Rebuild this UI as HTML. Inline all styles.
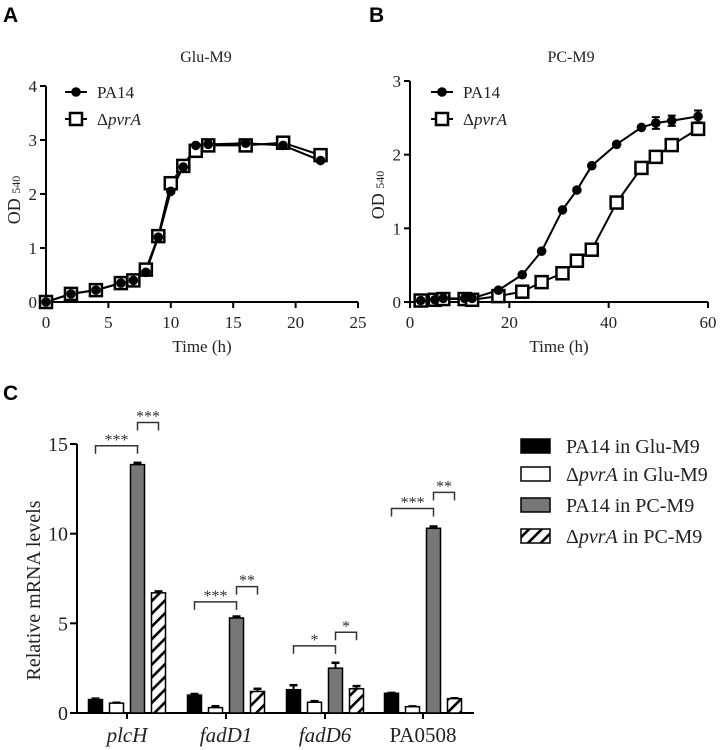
<!DOCTYPE html>
<html><head><meta charset="utf-8"><style>
body{margin:0;background:#fff;}
svg{display:block;font-family:"Liberation Serif",serif;}
svg text{font-family:"Liberation Serif",serif;}
svg text.lbl{font-family:"Liberation Sans",sans-serif;font-weight:bold;font-size:21px;}
</style></head><body>
<svg id="fig" width="728" height="750" viewBox="0 0 728 750">
<defs>
<pattern id="hatch" width="9" height="9" patternUnits="userSpaceOnUse" patternTransform="rotate(45)">
<rect width="9" height="9" fill="#fff"/><rect x="0" y="0" width="2.6" height="9" fill="#000"/>
</pattern>
</defs>
<text class="lbl" x="3" y="22">A</text>
<text class="lbl" x="369" y="22">B</text>
<text class="lbl" x="3" y="400">C</text>
<g id="A"></g><g id="B"></g><g id="C"></g>
</svg>
<script>
// Panel A data
const aTime=[0,2,4,6,7,8,9,10,11,12,13,16,19,22];
const aPA14=[0,0.15,0.22,0.35,0.4,0.55,1.2,2.05,2.5,2.9,2.92,2.94,2.9,2.62];
const aPvrA=[0,0.15,0.22,0.35,0.4,0.6,1.22,2.2,2.52,2.8,2.9,2.9,2.95,2.72];
const aXTicks=[0,5,10,15,20,25];
const aYTicks=[0,1,2,3,4];
// Panel B data
const bTime=[2.15,5,6.7,11,12.5,17.8,22.6,26.5,30.7,33.6,36.6,41.6,46.6,49.5,52.7,58];
const bPA14=[0.02,0.03,0.05,0.05,0.05,0.16,0.37,0.69,1.25,1.52,1.85,2.14,2.37,2.43,2.46,2.52];
const bPvrA=[0.02,0.03,0.04,0.04,0.03,0.08,0.14,0.27,0.39,0.56,0.71,1.35,1.82,1.97,2.13,2.35];
const bErr=[0,0,0,0,0,0,0,0,0,0,0,0,0,0.08,0.07,0.08];
const bXTicks=[0,20,40,60];
const bYTicks=[0,1,2,3];
// Panel C data
const cGenes=["plcH","fadD1","fadD6","PA0508"];
const cGlu14=[0.75,1.0,1.3,1.1];
const cGluPvr=[0.55,0.3,0.6,0.35];
const cPC14=[13.85,5.3,2.5,10.3];
const cPCPvr=[6.7,1.2,1.35,0.8];
const cErr14G=[0.05,0.06,0.25,0.02];
const cErrPG=[0.02,0.08,0.06,0.02];
const cErr14P=[0.1,0.08,0.3,0.1];
const cErrPP=[0.08,0.15,0.15,0.02];
const cSig1=["***","***","*","***"];
const cSig2=["***","**","*","**"];
const cSig1Y=[14.9,6.2,3.74,11.4];
const cSig2Y=[16.2,7.05,4.5,12.3];
const cYTicks=[0,5,10,15];

const NS="http://www.w3.org/2000/svg";
const FF='"Liberation Serif", serif';
function mk(parent,tag,attrs,text){const e=document.createElementNS(NS,tag);for(const k in attrs)e.setAttribute(k,attrs[k]);if(tag==='text')e.setAttribute('font-family',FF);if(text!==undefined)e.textContent=text;parent.appendChild(e);return e;}

function lineChart(g,cfg){
  const sx=v=>cfg.x0+(v-cfg.xmin)/(cfg.xmax-cfg.xmin)*(cfg.x1-cfg.x0);
  const sy=v=>cfg.y0-(v/cfg.ymax)*(cfg.y0-cfg.y1);
  let e;
  e=mk(g,'line',{x1:cfg.x0,y1:cfg.y0,x2:cfg.x1,y2:cfg.y0,stroke:'#000','stroke-width':2});
  
  e=mk(g,'line',{x1:cfg.x0,y1:cfg.y0,x2:cfg.x0,y2:cfg.y1,stroke:'#000','stroke-width':2});
  
  cfg.xt.forEach(t=>{const x=sx(t);mk(g,'line',{x1:x,y1:cfg.y0,x2:x,y2:cfg.y0+6,stroke:'#000','stroke-width':2});
    e=mk(g,'text',{x:x,y:cfg.y0+26,'text-anchor':'middle','font-size':17,fill:'#222'},t);
    });
  cfg.yt.forEach(t=>{const y=sy(t);mk(g,'line',{x1:cfg.x0-6,y1:y,x2:cfg.x0,y2:y,stroke:'#000','stroke-width':2});
    e=mk(g,'text',{x:cfg.x0-9,y:y+6,'text-anchor':'end','font-size':17,fill:'#222'},t);
    });
  e=mk(g,'text',{x:(cfg.x0+cfg.x1)/2,y:cfg.y0+50,'text-anchor':'middle','font-size':17,fill:'#222'},'Time (h)');
  
  e=mk(g,'text',{x:0,y:0,'font-size':18,fill:'#222',transform:`translate(${cfg.x0-26},${cfg.ytc}) rotate(-90)`,'text-anchor':'middle'});
  
  e.innerHTML='OD <tspan font-size="12">540</tspan>';
  e=mk(g,'text',{x:cfg.tx,y:62,'text-anchor':'middle','font-size':16,fill:'#222'},cfg.title);
  
  const ser=[[cfg.t,cfg.p,'pa14-line'],[cfg.t,cfg.d,'pvra-line']];
  ser.forEach(([t,v,name])=>{
    const pts=t.map((x,i)=>sx(x)+','+sy(v[i])).join(' ');
    e=mk(g,'polyline',{points:pts,fill:'none',stroke:'#000','stroke-width':2});
    
  });
  cfg.t.forEach((x,i)=>{e=mk(g,'rect',{x:sx(x)-6,y:sy(cfg.d[i])-6,width:12,height:12,fill:'#fff',stroke:'#000','stroke-width':2.5});
    });
  cfg.t.forEach((x,i)=>{
    if(cfg.err&&cfg.err[i]>0){const a=sy(cfg.p[i]+cfg.err[i]),b=sy(cfg.p[i]-cfg.err[i]),cx=sx(x);
      mk(g,'path',{d:`M${cx},${a}V${b}M${cx-4},${a}H${cx+4}M${cx-4},${b}H${cx+4}`,stroke:'#000','stroke-width':2,fill:'none'});}
    e=mk(g,'circle',{cx:sx(x),cy:sy(cfg.p[i]),r:4.8,fill:'#000'});
    });
  const lx=cfg.lx;
  mk(g,'line',{x1:lx,y1:92,x2:lx+22,y2:92,stroke:'#000','stroke-width':2});
  mk(g,'circle',{cx:lx+11,cy:92,r:4.8,fill:'#000'});
  e=mk(g,'text',{x:lx+32,y:98,'font-size':17,fill:'#222'},'PA14');
  
  mk(g,'line',{x1:lx,y1:119,x2:lx+22,y2:119,stroke:'#000','stroke-width':2});
  mk(g,'rect',{x:lx+5,y:113,width:12,height:12,fill:'#fff',stroke:'#000','stroke-width':2.5});
  e=mk(g,'text',{x:lx+32,y:125,'font-size':17,fill:'#222'});
  
  e.innerHTML='Δ<tspan font-style="italic">pvrA</tspan>';
}
lineChart(document.getElementById('A'),{x0:46,x1:358,xmin:0,xmax:25,y0:302,y1:86,ymax:4,xt:aXTicks,yt:aYTicks,t:aTime,p:aPA14,d:aPvrA,title:'Glu-M9',tx:206,lx:65,ytc:200});
lineChart(document.getElementById('B'),{x0:410,x1:708,xmin:0,xmax:60,y0:302,y1:81,ymax:3,xt:bXTicks,yt:bYTicks,t:bTime,p:bPA14,d:bPvrA,err:bErr,title:'PC-M9',tx:571,lx:431,ytc:195});

(function(){
  const g=document.getElementById('C');
  const x0=77,x1=474,y0=713,yTop=444,ymax=15;
  const sy=v=>y0-v/ymax*(y0-yTop);
  const centers=[127,226,325,423];
  const offs=[-31.5,-10.5,10.5,31.5],bw=14;
  let e;
  e=mk(g,'line',{x1:x0,y1:y0,x2:x1,y2:y0,stroke:'#000','stroke-width':2});
  
  e=mk(g,'line',{x1:x0,y1:y0,x2:x0,y2:yTop,stroke:'#000','stroke-width':2});
  
  cYTicks.forEach(t=>{const y=sy(t);mk(g,'line',{x1:x0-7,y1:y,x2:x0,y2:y,stroke:'#000','stroke-width':2});
    e=mk(g,'text',{x:x0-9,y:y+7,'text-anchor':'end','font-size':20,fill:'#222'},t);
    });
  e=mk(g,'text',{x:0,y:0,'font-size':20,fill:'#222','text-anchor':'middle',transform:`translate(40,${(y0+yTop)/2+12}) rotate(-90)`},'Relative mRNA levels');
  
  const series=[[cGlu14,cErr14G,'#000'],[cGluPvr,cErrPG,'#fff'],[cPC14,cErr14P,'#777'],[cPCPvr,cErrPP,'url(#hatch)']];
  cGenes.forEach((gn,i)=>{
    const c=centers[i];
    mk(g,'line',{x1:c,y1:y0,x2:c,y2:y0+6,stroke:'#000','stroke-width':2});
    e=mk(g,'text',{x:c,y:y0+29,'text-anchor':'middle','font-size':21,fill:'#222','font-style':gn==='PA0508'?'normal':'italic'},gn);
    
    series.forEach(([vals,errs,fill],s)=>{
      const bx=c+offs[s]-bw/2,top=sy(vals[i]);
      const et=sy(vals[i]+errs[i]);
      mk(g,'line',{x1:c+offs[s],y1:top,x2:c+offs[s],y2:et,stroke:'#000','stroke-width':2});
      mk(g,'line',{x1:c+offs[s]-4,y1:et,x2:c+offs[s]+4,y2:et,stroke:'#000','stroke-width':2.5});
      e=mk(g,'rect',{x:bx,y:top,width:bw,height:y0-top,fill:fill,stroke:'#000','stroke-width':1.5});
      
    });
    const b=(xa,xb,v,txt)=>{const y=sy(v);
      mk(g,'path',{d:`M${xa},${y+8}V${y}H${xb}V${y+8}`,fill:'none',stroke:'#333','stroke-width':1.5});
      e=mk(g,'text',{x:(xa+xb)/2,y:y-1,'text-anchor':'middle','font-size':16,fill:'#333'},txt);
      };
    b(c+offs[0],c+offs[2],cSig1Y[i],cSig1[i]);
    b(c+offs[2],c+offs[3],cSig2Y[i],cSig2[i]);
  });
  const fills=['#000','#fff','#777','url(#hatch)'];
  const names=['PA14 in Glu-M9','<tspan>Δ</tspan><tspan font-style="italic">pvrA</tspan> in Glu-M9','PA14 in PC-M9','<tspan>Δ</tspan><tspan font-style="italic">pvrA</tspan> in PC-M9'];
  const ly=[446,474,505,536];
  fills.forEach((f,i)=>{
    e=mk(g,'rect',{x:521,y:ly[i]-7,width:29,height:14,fill:f,stroke:'#000','stroke-width':1.5});
    
    e=mk(g,'text',{x:566,y:ly[i]+7,'font-size':20,fill:'#222'});
    
    e.innerHTML=names[i];
  });
})();
</script>
</body></html>
